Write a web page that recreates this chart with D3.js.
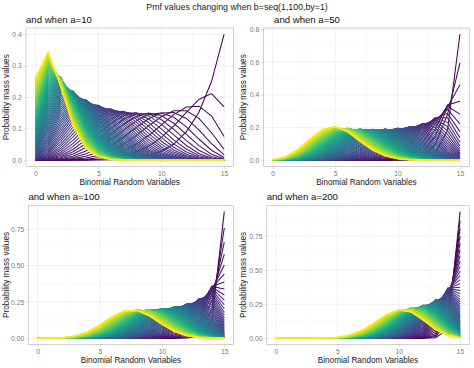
<!DOCTYPE html>
<html>
<head>
<meta charset="utf-8">
<script src="https://cdn.jsdelivr.net/npm/d3@7"></script>
<style>
  html, body { margin: 0; padding: 0; background: #fff; }
  svg { display: block; font-family: "Liberation Sans", Arial, sans-serif; }
</style>
</head>
<body>
<svg id="chart" width="474" height="368"></svg>
<script>
// ---- Data (parameters of the plotted distributions, as stated in the chart) ----
const chartTitle = "Pmf values changing when b=seq(1,100,by=1)";
const nTrials = 15;
const aValues = [10, 50, 100, 200];
const panelTitles = ["and when a=10", "    and when a=50", "and when a=100", "and when a=200"];
const bValues = [1,2,3,4,5,6,7,8,9,10,11,12,13,14,15,16,17,18,19,20,
  21,22,23,24,25,26,27,28,29,30,31,32,33,34,35,36,37,38,39,40,
  41,42,43,44,45,46,47,48,49,50,51,52,53,54,55,56,57,58,59,60,
  61,62,63,64,65,66,67,68,69,70,71,72,73,74,75,76,77,78,79,80,
  81,82,83,84,85,86,87,88,89,90,91,92,93,94,95,96,97,98,99,100];
const xValues = [0,1,2,3,4,5,6,7,8,9,10,11,12,13,14,15];
const xTicks = [0, 5, 10, 15];
const yTicksList = [
  [0, 0.1, 0.2, 0.3, 0.4],
  [0, 0.2, 0.4, 0.6, 0.8],
  [0, 0.25, 0.5, 0.75],
  [0, 0.25, 0.5, 0.75]
];
const yTickFormats = [".1f", ".1f", ".2f", ".2f"];

// Beta-binomial pmf (the quantity plotted in the reference).
function lgamma(z) {
  const g = 7, c = [0.99999999999980993, 676.5203681218851, -1259.1392167224028,
    771.32342877765313, -176.61502916214059, 12.507343278686905,
    -0.13857109526572012, 9.9843695780195716e-6, 1.5056327351493116e-7];
  if (z < 0.5) return Math.log(Math.PI / Math.sin(Math.PI * z)) - lgamma(1 - z);
  z -= 1;
  let x = c[0];
  for (let i = 1; i < g + 2; i++) x += c[i] / (z + i);
  const t = z + g + 0.5;
  return 0.5 * Math.log(2 * Math.PI) + (z + 0.5) * Math.log(t) - t + Math.log(x);
}
const lbeta = (p, q) => lgamma(p) + lgamma(q) - lgamma(p + q);
const lchoose = (n, k) => lgamma(n + 1) - lgamma(k + 1) - lgamma(n - k + 1);
const pmf = (k, n, a, b) => Math.exp(lchoose(n, k) + lbeta(k + a, n - k + b) - lbeta(a, b));

// ---- Layout ----
const svg = d3.select("#chart");
const panels = [
  { left: 26,    right: 233.5, top: 28,    bottom: 166.5, titleX: 26 },
  { left: 263.4, right: 469.3, top: 28,    bottom: 166.5, titleX: 263.4 },
  { left: 28.4,  right: 233.6, top: 205.3, bottom: 344.6, titleX: 28.4 },
  { left: 266.7, right: 469.3, top: 205.3, bottom: 344.6, titleX: 266.7 }
];

svg.append("text")
  .attr("x", 237).attr("y", 9.5)
  .attr("text-anchor", "middle")
  .attr("font-size", 8.8).attr("fill", "#1a1a1a")
  .text(chartTitle);

const color = d3.scaleSequential(d3.interpolateViridis).domain([d3.min(bValues), d3.max(bValues)]);

aValues.forEach((a, pi) => {
  const P = panels[pi];
  const curves = bValues.map(b => ({ b, pts: xValues.map(x => ({ x, y: pmf(x, nTrials, a, b) })) }));
  const allY = curves.flatMap(c => c.pts.map(p => p.y));
  const ymin = d3.min(allY), ymax = d3.max(allY);
  const yr = ymax - ymin;
  const x = d3.scaleLinear().domain([-0.75, 15.75]).range([P.left, P.right]);
  const y = d3.scaleLinear().domain([ymin - 0.05 * yr, ymax + 0.05 * yr]).range([P.bottom, P.top]);
  const g = svg.append("g");

  // minor grid
  const yt = yTicksList[pi];
  const ystep = yt[1] - yt[0];
  const yMinor = [];
  for (let v = yt[0] - ystep / 2; v <= y.domain()[1]; v += ystep) if (v >= y.domain()[0]) yMinor.push(v);
  const xMinor = [2.5, 7.5, 12.5];
  g.selectAll(null).data(yMinor).join("line")
    .attr("x1", P.left).attr("x2", P.right)
    .attr("y1", d => y(d)).attr("y2", d => y(d))
    .attr("stroke", "#efefef").attr("stroke-width", 0.4);
  g.selectAll(null).data(xMinor).join("line")
    .attr("y1", P.top).attr("y2", P.bottom)
    .attr("x1", d => x(d)).attr("x2", d => x(d))
    .attr("stroke", "#efefef").attr("stroke-width", 0.4);
  // major grid
  g.selectAll(null).data(yt).join("line")
    .attr("x1", P.left).attr("x2", P.right)
    .attr("y1", d => y(d)).attr("y2", d => y(d))
    .attr("stroke", "#e6e6e6").attr("stroke-width", 0.6);
  g.selectAll(null).data(xTicks).join("line")
    .attr("y1", P.top).attr("y2", P.bottom)
    .attr("x1", d => x(d)).attr("x2", d => x(d))
    .attr("stroke", "#e6e6e6").attr("stroke-width", 0.6);

  // curves
  const line = d3.line().x(d => x(d.x)).y(d => y(d.y));
  const clipId = "clip" + pi;
  svg.append("clipPath").attr("id", clipId).append("rect")
    .attr("x", P.left).attr("y", P.top).attr("width", P.right - P.left).attr("height", P.bottom - P.top);
  g.append("g").attr("clip-path", `url(#${clipId})`)
    .selectAll("path").data(curves).join("path")
    .attr("d", d => line(d.pts))
    .attr("fill", "none")
    .attr("stroke", d => color(d.b))
    .attr("stroke-width", 1.05);

  // border
  g.append("rect")
    .attr("x", P.left).attr("y", P.top)
    .attr("width", P.right - P.left).attr("height", P.bottom - P.top)
    .attr("fill", "none").attr("stroke", "#bdbdbd").attr("stroke-width", 0.7);

  // axes
  const xAxis = d3.axisBottom(x).tickValues(xTicks).tickFormat(d3.format("d")).tickSize(2.2).tickPadding(2);
  const yAxis = d3.axisLeft(y).tickValues(yt).tickFormat(d3.format(yTickFormats[pi])).tickSize(2.2).tickPadding(2);
  const gx = g.append("g").attr("transform", `translate(0,${P.bottom})`).call(xAxis);
  const gy = g.append("g").attr("transform", `translate(${P.left},0)`).call(yAxis);
  [gx, gy].forEach(ax => {
    ax.select(".domain").remove();
    ax.selectAll(".tick line").attr("stroke", "#bdbdbd").attr("stroke-width", 0.6);
    ax.selectAll(".tick text").attr("fill", "#7a7a7a").attr("font-size", 6.8)
      .attr("font-family", "Liberation Sans, Arial, sans-serif");
  });

  // panel title
  g.append("text")
    .attr("x", P.titleX).attr("y", P.top - 5.5)
    .attr("font-size", 9.6).attr("fill", "#111")
    .attr("xml:space", "preserve").style("white-space", "pre")
    .text(panelTitles[pi]);

  // axis titles
  g.append("text")
    .attr("x", (P.left + P.right) / 2).attr("y", P.bottom + 18)
    .attr("text-anchor", "middle").attr("font-size", 8.2).attr("fill", "#1a1a1a")
    .text("Binomial Random Variables");
  const ycx = pi % 2 === 0 ? 8.6 : 245.6;
  g.append("text")
    .attr("transform", `translate(${ycx},${(P.top + P.bottom) / 2}) rotate(-90)`)
    .attr("text-anchor", "middle").attr("font-size", 8.2).attr("fill", "#1a1a1a")
    .text("Probability mass values");
});
</script>
</body>
</html>
